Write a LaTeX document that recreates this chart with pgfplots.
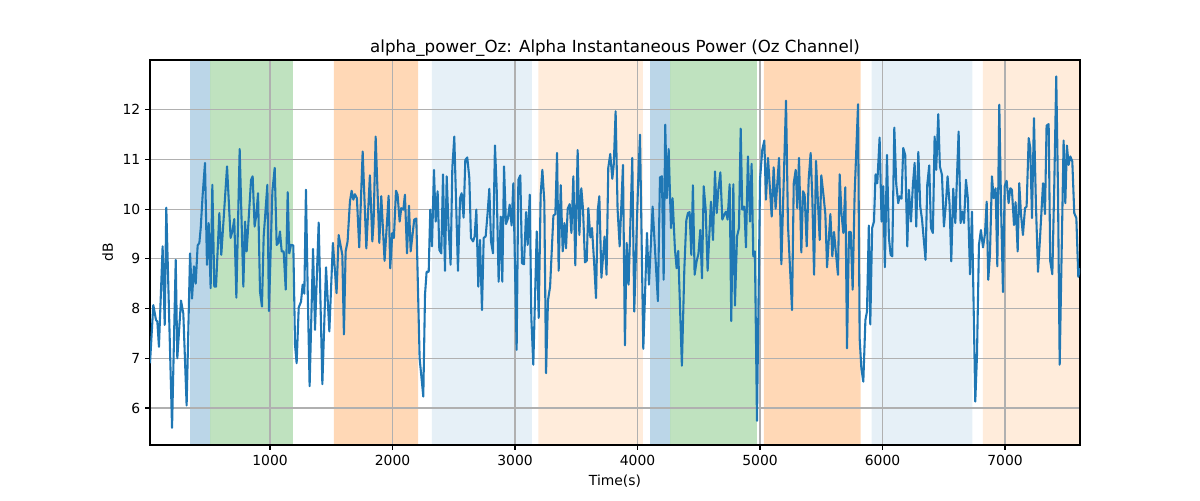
\documentclass[border=0pt]{standalone}
\usepackage{pgfplots}
\pgfplotsset{compat=1.18}
\usepackage{fontspec}
\setmainfont{DejaVu Sans}
\definecolor{c0}{HTML}{1F77B4}
\definecolor{c1}{HTML}{FF7F0E}
\definecolor{c2}{HTML}{2CA02C}
\definecolor{gridc}{HTML}{B0B0B0}
\pgfplotsset{span/.style={on layer=axis background, fill=#1, draw=none}}
\begin{document}
\begin{tikzpicture}
\begin{axis}[
  set layers,
  at={(0,0)}, anchor=south west,
  width=669.6pt, height=277.2pt, scale only axis,
  xmin=20, xmax=7612, ymin=5.255, ymax=13.0,
  xtick={1000,2000,3000,4000,5000,6000,7000},
  ytick={6,7,8,9,10,11,12},
  /pgf/number format/assume math mode=true,
  /pgf/number format/1000 sep={},
  scaled x ticks=false,
  tick label style={font=\fontsize{10}{12}\selectfont},
  tick align=outside, major tick length=3.5pt,
  tick style={black, line width=0.8pt},
  xtick pos=bottom, ytick pos=left,
  grid=major,
  major grid style={gridc, line width=0.8pt},
  axis line style={black, line width=0.8pt},
  title={alpha\_power\_Oz: Alpha Instantaneous Power (Oz Channel)},
  title style={font=\fontsize{12}{14}\selectfont, yshift=-7pt},
  xlabel={Time(s)}, ylabel={dB},
  label style={font=\fontsize{10}{12}\selectfont},
  clip=true,
]
\addplot[span=c0, fill opacity=0.3] coordinates {(347,5.255) (347,13) (510,13) (510,5.255)} \closedcycle;
\addplot[span=c2, fill opacity=0.3] coordinates {(510,5.255) (510,13) (1187,13) (1187,5.255)} \closedcycle;
\addplot[span=c1, fill opacity=0.3] coordinates {(1522,5.255) (1522,13) (2208,13) (2208,5.255)} \closedcycle;
\addplot[span=c0, fill opacity=0.11] coordinates {(2322,5.255) (2322,13) (3137,13) (3137,5.255)} \closedcycle;
\addplot[span=c1, fill opacity=0.15] coordinates {(3190,5.255) (3190,13) (4043,13) (4043,5.255)} \closedcycle;
\addplot[span=c0, fill opacity=0.3] coordinates {(4102,5.255) (4102,13) (4265,13) (4265,5.255)} \closedcycle;
\addplot[span=c2, fill opacity=0.3] coordinates {(4265,5.255) (4265,13) (4975,13) (4975,5.255)} \closedcycle;
\addplot[span=c1, fill opacity=0.3] coordinates {(5032,5.255) (5032,13) (5822,13) (5822,5.255)} \closedcycle;
\addplot[span=c0, fill opacity=0.11] coordinates {(5910,5.255) (5910,13) (6734,13) (6734,5.255)} \closedcycle;
\addplot[span=c1, fill opacity=0.15] coordinates {(6818,5.255) (6818,13) (7612,13) (7612,5.255)} \closedcycle;
\addplot[c0, line width=1.5pt, line join=round] coordinates {
(20,6.9)(47,8.07)(69,7.77)(80,7.74)(93,7.23)(123,9.25)(140,7.67)(153,10.03)(200,5.6)(230,8.98)(243,7.0)(273,8.16)(292,7.9)(319,6.05)(347,9.11)(363,8.2)(379,8.85)(393,8.5)(409,9.27)(423,9.32)(434,9.62)(450,10.29)(469,10.93)(485,8.88)(499,9.72)(515,8.41)(529,10.49)(545,8.44)(559,8.44)(586,9.92)(602,9.08)(621,9.8)(649,10.86)(678,9.42)(692,9.55)(708,9.8)(725,8.22)(752,11.21)(782,8.44)(796,9.75)
(809,9.15)(845,10.59)(858,10.66)(874,9.65)(888,9.89)(902,10.32)(918,8.34)(934,8.04)(948,9.45)(978,10.49)(991,7.95)(1019,10.36)(1038,10.83)(1054,9.28)(1068,9.32)(1081,9.55)(1095,9.15)(1111,9.15)(1128,8.38)(1144,10.34)(1157,9.11)(1171,9.28)(1190,9.27)(1204,7.27)(1217,6.9)(1234,8.02)(1253,8.14)(1266,8.48)(1280,8.3)(1293,10.39)(1307,8.41)(1323,6.44)(1351,9.2)(1367,7.57)(1397,9.73)(1427,6.48)(1457,8.83)(1484,7.54)
(1513,9.32)(1543,8.31)(1560,9.48)(1590,9.08)(1603,7.48)(1617,9.15)(1633,9.35)(1652,10.15)(1666,10.37)(1680,10.19)(1693,10.3)(1709,10.22)(1728,9.23)(1756,11.16)(1786,9.21)(1815,10.68)(1835,9.35)(1845,9.72)(1862,11.46)(1892,9.32)(1908,10.26)(1935,8.96)(1968,10.27)(1981,8.81)(1998,9.52)(2011,9.42)(2028,10.37)(2041,10.29)(2058,9.75)(2071,10.02)(2088,9.99)(2101,10.29)(2118,9.11)(2134,10.07)(2148,9.15)(2177,9.79)(2194,9.81)(2221,7.0)(2251,6.23)(2265,8.28)
(2278,8.74)(2295,8.74)(2308,9.99)(2322,9.25)(2338,10.79)(2352,9.75)(2368,10.36)(2382,9.18)(2398,9.11)(2412,10.7)(2428,8.76)(2442,10.66)(2458,9.6)(2474,8.88)(2488,10.83)(2504,11.46)(2534,8.76)(2551,10.22)(2564,10.32)(2580,9.83)(2594,10.99)(2610,11.04)(2627,10.62)(2640,9.42)(2657,9.35)(2670,9.45)(2684,9.99)(2700,8.44)(2714,9.38)(2730,7.97)(2744,9.42)(2760,9.45)(2776,9.92)(2790,10.41)(2804,9.35)(2820,9.11)(2836,11.28)(2850,10.42)(2866,8.54)(2883,9.85)(2896,8.54)(2910,10.86)(2926,9.7)(2942,9.81)(2956,10.09)(2972,9.67)(2986,10.52)
(3013,7.17)(3027,10.59)(3043,10.68)(3057,8.91)(3073,8.89)(3090,9.94)(3103,9.28)(3120,10.29)(3133,7.81)(3149,6.87)(3177,9.55)(3193,7.81)(3209,10.29)(3223,10.79)(3239,10.15)(3253,6.7)(3269,8.17)(3286,8.44)(3313,9.87)(3329,9.9)(3343,11.13)(3356,8.76)(3373,10.48)(3389,9.15)(3403,9.72)(3416,9.21)(3430,10.01)(3446,10.1)(3460,9.52)(3476,10.66)(3492,8.87)(3511,11.19)(3525,9.48)(3541,10.42)(3555,9.99)(3571,8.93)(3585,8.96)(3598,10.02)(3615,9.43)(3628,9.62)(3645,8.95)(3661,8.21)(3675,9.97)(3688,10.26)(3705,8.62)
(3731,9.45)(3747,8.68)(3761,10.83)(3777,11.11)(3794,10.61)(3806,10.9)(3821,11.97)(3837,10.0)(3854,9.25)(3881,10.89)(3897,7.26)(3911,9.32)(3927,8.48)(3957,11.03)(3973,7.94)(4003,10.4)(4020,11.5)(4047,7.19)(4077,9.52)(4093,8.48)(4123,10.05)(4166,8.15)(4183,10.64)(4199,10.66)(4213,8.58)(4226,11.7)(4240,10.22)(4254,11.21)(4273,9.62)(4286,10.22)(4305,9.2)(4319,8.81)(4332,9.16)(4362,6.85)(4382,8.8)(4398,9.77)(4411,9.92)(4425,9.94)(4439,9.08)(4452,10.48)(4466,8.68)
(4482,8.95)(4497,9.1)(4512,9.58)(4526,8.61)(4540,10.46)(4556,10.0)(4572,8.76)(4599,10.15)(4616,9.38)(4632,10.76)(4646,9.92)(4660,10.4)(4676,10.74)(4692,9.79)(4708,9.89)(4722,9.95)(4735,9.79)(4752,10.5)(4765,7.75)(4782,10.5)(4795,8.06)(4812,9.45)(4828,9.62)(4842,11.62)(4855,9.99)(4872,10.05)(4885,9.23)(4901,11.06)(4918,9.75)(4931,10.91)(4945,9.05)(4958,9.15)(4975,5.74)(5000,10.6)(5018,11.19)(5035,11.38)(5048,10.19)(5065,11.03)(5095,9.85)(5111,10.84)(5127,10.01)(5155,11.03)(5174,8.89)
(5212,12.18)(5228,9.68)(5261,7.97)(5275,10.52)(5291,10.79)(5304,10.02)(5318,11.03)(5337,9.13)(5351,10.36)(5364,10.29)(5381,9.25)(5397,10.6)(5413,11.13)(5427,10.2)(5441,8.68)(5457,10.97)(5487,9.38)(5500,10.68)(5517,10.3)(5533,9.9)(5547,8.83)(5574,9.9)(5590,9.05)(5604,9.54)(5620,9.1)(5636,8.68)(5650,10.7)(5665,9.9)(5680,9.52)(5696,10.44)(5710,7.2)(5726,9.54)(5740,9.54)(5756,8.38)(5772,10.3)(5800,12.11)(5813,7.4)(5827,6.8)(5843,6.53)(5860,7.77)(5873,7.94)(5888,9.67)(5900,7.68)(5915,9.62)(5930,9.75)(5943,10.7)
(5957,10.52)(5976,11.44)(5992,9.75)(6006,10.46)(6019,8.83)(6036,11.09)(6052,9.42)(6066,9.08)(6079,9.05)(6096,11.64)(6112,10.5)(6128,10.12)(6139,10.26)(6155,10.21)(6169,11.23)(6185,11.09)(6202,9.25)(6215,10.39)(6232,9.75)(6248,10.5)(6262,10.93)(6275,9.65)(6292,11.15)(6308,10.05)(6322,9.8)(6351,8.98)(6365,10.49)(6381,10.88)(6395,9.62)(6411,9.52)(6425,11.46)(6438,10.79)(6455,11.91)(6468,10.86)(6485,10.69)(6501,9.65)(6517,10.1)(6531,10.66)(6547,10.1)(6561,8.95)(6577,10.41)(6594,9.72)(6621,11.56)(6637,9.72)(6651,9.95)(6665,9.72)
(6681,10.59)(6697,10.2)(6714,8.69)(6730,9.95)(6757,6.13)(6771,7.07)(6787,9.28)(6803,9.58)(6820,9.23)(6836,9.5)(6850,10.15)(6863,8.58)(6877,9.1)(6893,10.66)(6907,10.22)(6923,10.42)(6937,8.85)(6953,12.1)(6968,10.0)(6983,8.33)(6997,10.46)(7013,10.57)(7029,10.12)(7043,10.42)(7056,10.39)(7073,9.68)(7086,10.14)(7103,9.15)(7116,10.52)(7130,9.9)(7146,9.48)(7163,10.02)(7176,10.05)(7193,11.43)(7206,11.23)(7220,9.82)(7236,11.83)(7252,10.1)(7269,8.74)(7285,9.4)(7310,10.52)(7326,9.9)(7339,11.68)(7356,11.71)(7369,8.95)(7386,8.69)(7402,10.5)(7418,12.67)(7432,10.4)(7446,6.87)(7478,11.38)(7492,10.12)(7505,11.28)(7519,10.89)(7533,11.06)(7549,10.96)(7565,9.92)(7582,9.82)(7598,8.64)(7612,8.81)
};
\end{axis}
\path (-108pt,-39.6pt) rectangle (756pt,320.4pt);
\end{tikzpicture}
\end{document}
